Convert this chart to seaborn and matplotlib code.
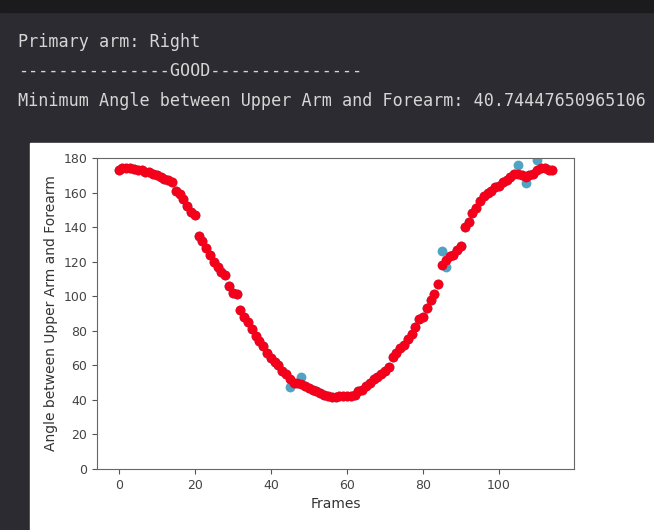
import matplotlib
matplotlib.use("Agg")
import matplotlib.pyplot as plt
from matplotlib.patches import Rectangle
import numpy as np
import seaborn as sns

# notebook output lines printed above the chart
output_lines = [
    "Primary arm: Right",
    "---------------GOOD---------------",
    "Minimum Angle between Upper Arm and Forearm: 40.74447650965106",
]

# smoothed angle per frame (red)
smoothed_angle = [
    173, 174, 174, 174, 173.5, 173, 173, 172, 172, 171,
    170, 169, 168, 167, 166, 161, 159, 156, 152, 149,
    147, 135, 132, 128, 124, 120, 117, 114, 112, 106,
    102, 101, 92, 88, 85, 81, 77, 74, 71, 67,
    64, 62, 60, 57, 55, 52, 50, 50, 49, 48,
    47, 45.5, 45, 44, 43, 42, 41.5, 41.5, 42, 42,
    42, 42.5, 43, 45, 46, 48, 50, 52, 53, 55,
    57, 59, 65, 67, 70, 72, 75, 78, 82, 87,
    88, 93, 98, 101, 107, 118, 121, 123, 124, 127,
    129, 140, 143, 148, 151, 155, 158, 160, 161, 163,
    164, 166, 167, 169, 171, 171, 170, 169, 170, 171,
    173, 174, 174, 173, 173,
]

# raw angle only differs from the smoothed one at a few frames (blue)
raw_outliers = {45: 47.5, 48: 53, 85: 126, 86: 117, 105: 176, 107: 165.5, 110: 179}

frames = np.arange(len(smoothed_angle))
raw_angle = [raw_outliers.get(i, v) for i, v in enumerate(smoothed_angle)]

W, H = 654, 530
fig = plt.figure(figsize=(W / 100, H / 100), dpi=100, facecolor="#2b2b31")

# top bar and white output cell
fig.add_artist(Rectangle((0, 1 - 12 / H), 1, 12 / H, transform=fig.transFigure,
                         color="#1b1b1d", zorder=0))
fig.add_artist(Rectangle((30 / W, 0), 1 - 30 / W, (H - 143) / H, transform=fig.transFigure,
                         color="white", zorder=0))

for i, line in enumerate(output_lines):
    fig.text(18 / W, 1 - (42 + 29.5 * i) / H, line, color="#d6d6d6",
             family="DejaVu Sans Mono", fontsize=12.1, va="center", ha="left")

ax = fig.add_axes([97 / W, 61 / H, 477 / W, 311 / H])
sns.scatterplot(x=frames, y=raw_angle, color="#4fa4c4", s=50, linewidth=0, ax=ax)
sns.scatterplot(x=frames, y=smoothed_angle, color="#f4001a", s=50, linewidth=0, ax=ax)

ax.set_ylim(0, 180)
ax.set_yticks(range(0, 181, 20))
ax.set_xticks(range(0, 101, 20))
ax.set_xlabel("Frames", fontsize=10, color="#333333")
ax.set_ylabel("Angle between Upper Arm and Forearm", fontsize=10, color="#333333")
ax.tick_params(labelsize=9, colors="#555555", labelcolor="#444444")
for sp in ax.spines.values():
    sp.set_color("#666666")

fig.savefig("out.png", dpi=100, facecolor=fig.get_facecolor())
